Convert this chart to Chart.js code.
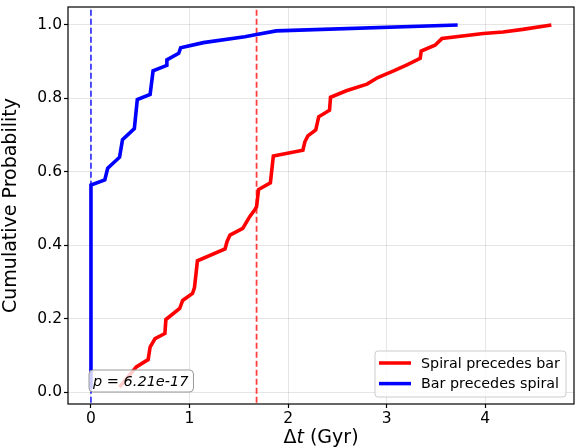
<!DOCTYPE html>
<html>
<head>
  <title>Cumulative Probability</title>
  <script src="https://cdn.jsdelivr.net/npm/chart.js"></script>
  <style>
    body { margin: 0; background: #fff; }
  </style>
</head>
<body>
<canvas id="myChart" width="584" height="448"></canvas>

<script>
  // Spiral precedes bar (red)
  const redX = [0.29, 0.37, 0.46, 0.58, 0.60, 0.65, 0.75, 0.76, 0.90, 0.93, 1.03, 1.05, 1.08, 1.36, 1.38, 1.41,
    1.54, 1.61, 1.66, 1.68, 1.70, 1.82, 1.85, 2.15, 2.17, 2.20, 2.28, 2.31, 2.42, 2.43, 2.59, 2.80, 2.91,
    3.07, 3.20, 3.34, 3.35, 3.49, 3.56, 3.98, 4.18, 4.38, 4.67];
  const redY = [0.014, 0.04, 0.069, 0.089, 0.123, 0.146, 0.16, 0.198, 0.228, 0.25, 0.269, 0.285, 0.358, 0.39, 0.41, 0.428,
    0.446, 0.478, 0.496, 0.505, 0.552, 0.570, 0.643, 0.659, 0.682, 0.698, 0.714, 0.750, 0.768, 0.803, 0.821, 0.839, 0.857,
    0.875, 0.891, 0.909, 0.929, 0.945, 0.963, 0.977, 0.981, 0.988, 1.0];

  // Bar precedes spiral (blue)
  const blueX = [0.0, 0.0, 0.14, 0.17, 0.29, 0.32, 0.44, 0.47, 0.60, 0.63, 0.77, 0.77, 0.89, 0.91, 1.14, 1.56, 1.68, 1.88, 3.72];
  const blueY = [0.01, 0.564, 0.578, 0.61, 0.64, 0.688, 0.718, 0.797, 0.811, 0.875, 0.89, 0.905, 0.923, 0.938, 0.952, 0.968, 0.974, 0.984, 1.0];

  // медіани (вертикальні пунктирні лінії)
  const redMedian = 1.68;
  const blueMedian = 0.0;

  const seriesLabels = ['Spiral precedes bar', 'Bar precedes spiral'];
  const xTicks = [0, 1, 2, 3, 4];
  const yTicks = [0.0, 0.2, 0.4, 0.6, 0.8, 1.0];
  const pText = 'p = 6.21e-17';

  const toPts = (xs, ys) => xs.map((x, i) => ({x: x, y: ys[i]}));
  const vline = x => [{x: x, y: -0.2}, {x: x, y: 1.2}];

  const FONT = 'DejaVu Sans';

  // рамка, легенда, підпис p і назва осі x
  const extras = {
    id: 'extras',
    afterDatasetsDraw(chart) {
      const ctx = chart.ctx;
      const a = chart.chartArea;
      ctx.save();

      // p-value box
      ctx.font = 'italic 14.5px "' + FONT + '"';
      const tw = ctx.measureText(pText).width;
      const bx = a.left + 21, by = 370, bw = tw + 9, bh = 22;
      ctx.beginPath();
      ctx.roundRect(bx, by, bw, bh, 4);
      ctx.fillStyle = 'rgba(255,255,255,0.8)';
      ctx.fill();
      ctx.strokeStyle = '#999';
      ctx.lineWidth = 1;
      ctx.stroke();
      ctx.fillStyle = '#000';
      ctx.textBaseline = 'middle';
      ctx.textAlign = 'left';
      ctx.fillText(pText, bx + 4, by + bh / 2 + 1);

      // legend
      ctx.font = '14.3px "' + FONT + '"';
      const lw = 191, lh = 46;
      const lx = a.right - 8 - lw, ly = a.bottom - 7 - lh;
      ctx.beginPath();
      ctx.roundRect(lx, ly, lw, lh, 3);
      ctx.fillStyle = 'rgba(255,255,255,0.8)';
      ctx.fill();
      ctx.strokeStyle = '#ccc';
      ctx.lineWidth = 1;
      ctx.stroke();
      const cols = ['#ff0000', '#0000ff'];
      seriesLabels.forEach((t, i) => {
        const yy = ly + 12 + i * 20.6;
        ctx.strokeStyle = cols[i];
        ctx.lineWidth = 3.5;
        ctx.beginPath();
        ctx.moveTo(lx + 4, yy);
        ctx.lineTo(lx + 36, yy);
        ctx.stroke();
        ctx.fillStyle = '#000';
        ctx.fillText(t, lx + 46, yy + 1);
      });

      // frame
      ctx.strokeStyle = '#000';
      ctx.lineWidth = 1.2;
      ctx.strokeRect(a.left, a.top, a.right - a.left, a.bottom - a.top);

      // x title: Δt (Gyr)
      const fN = '19px "' + FONT + '"', fI = 'italic 19px "' + FONT + '"';
      const p1 = 'Δ', p3 = ' (Gyr)';
      ctx.font = fN;
      const w1 = ctx.measureText(p1).width;
      const w3 = ctx.measureText(p3).width;
      ctx.font = fI;
      const w2 = ctx.measureText('t').width;
      const sx = (a.left + a.right) / 2 - (w1 + w2 + w3) / 2;
      const ty = 438;
      ctx.fillStyle = '#000';
      ctx.font = fN;
      ctx.fillText(p1, sx, ty);
      ctx.font = fI;
      ctx.fillText('t', sx + w1, ty);
      ctx.font = fN;
      ctx.fillText(p3, sx + w1 + w2, ty);
      ctx.restore();
    }
  };

  const ctx = document.getElementById('myChart').getContext('2d');
  const myChart = new Chart(ctx, {
    type: 'line',
    data: {
      datasets: [
        {
          label: seriesLabels[0],
          data: toPts(redX, redY),
          borderColor: '#ff0000',
          borderWidth: 3.6,
          pointRadius: 0,
          tension: 0,
          clip: 0
        },
        {
          label: seriesLabels[1],
          data: toPts(blueX, blueY),
          borderColor: '#0000ff',
          borderWidth: 3.6,
          pointRadius: 0,
          tension: 0,
          clip: 0
        },
        {
          label: 'red median',
          data: vline(redMedian),
          borderColor: 'rgba(255,0,0,0.75)',
          borderWidth: 1.8,
          borderDash: [6, 3],
          pointRadius: 0,
          clip: 0
        },
        {
          label: 'blue median',
          data: vline(blueMedian),
          borderColor: 'rgba(0,0,255,0.75)',
          borderWidth: 1.8,
          borderDash: [6, 3],
          pointRadius: 0,
          clip: 0
        }
      ]
    },
    options: {
      responsive: false,
      animation: false,
      devicePixelRatio: 1,
      layout: { padding: { top: 7, right: 10, left: 0, bottom: 0 } },
      plugins: {
        legend: { display: false },
        tooltip: { enabled: false }
      },
      scales: {
        x: {
          type: 'linear',
          min: -0.233,
          max: 4.9,
          afterBuildTicks: s => { s.ticks = xTicks.map(v => ({value: v})); },
          afterFit: s => { s.height = 44; s.paddingLeft = 0; s.paddingRight = 0; },
          border: { display: false },
          grid: { color: 'rgba(0,0,0,0.1)', tickColor: '#000', tickLength: 4, tickWidth: 1.2 },
          ticks: {
            color: '#000',
            padding: 2,
            maxRotation: 0,
            font: { family: FONT, size: 15.5 },
            callback: v => String(v)
          }
        },
        y: {
          type: 'linear',
          min: -0.032,
          max: 1.049,
          afterBuildTicks: s => { s.ticks = yTicks.map(v => ({value: v})); },
          afterFit: s => { s.width = 68; s.paddingTop = 0; s.paddingBottom = 0; },
          border: { display: false },
          grid: { color: 'rgba(0,0,0,0.1)', tickColor: '#000', tickLength: 4, tickWidth: 1.2 },
          title: {
            display: true,
            text: 'Cumulative Probability',
            color: '#000',
            font: { family: FONT, size: 19 },
            padding: { top: 0, bottom: 2 }
          },
          ticks: {
            color: '#000',
            padding: 2,
            font: { family: FONT, size: 15.5 },
            callback: v => Number(v).toFixed(1)
          }
        }
      }
    },
    plugins: [extras]
  });
</script>

</body>
</html>
